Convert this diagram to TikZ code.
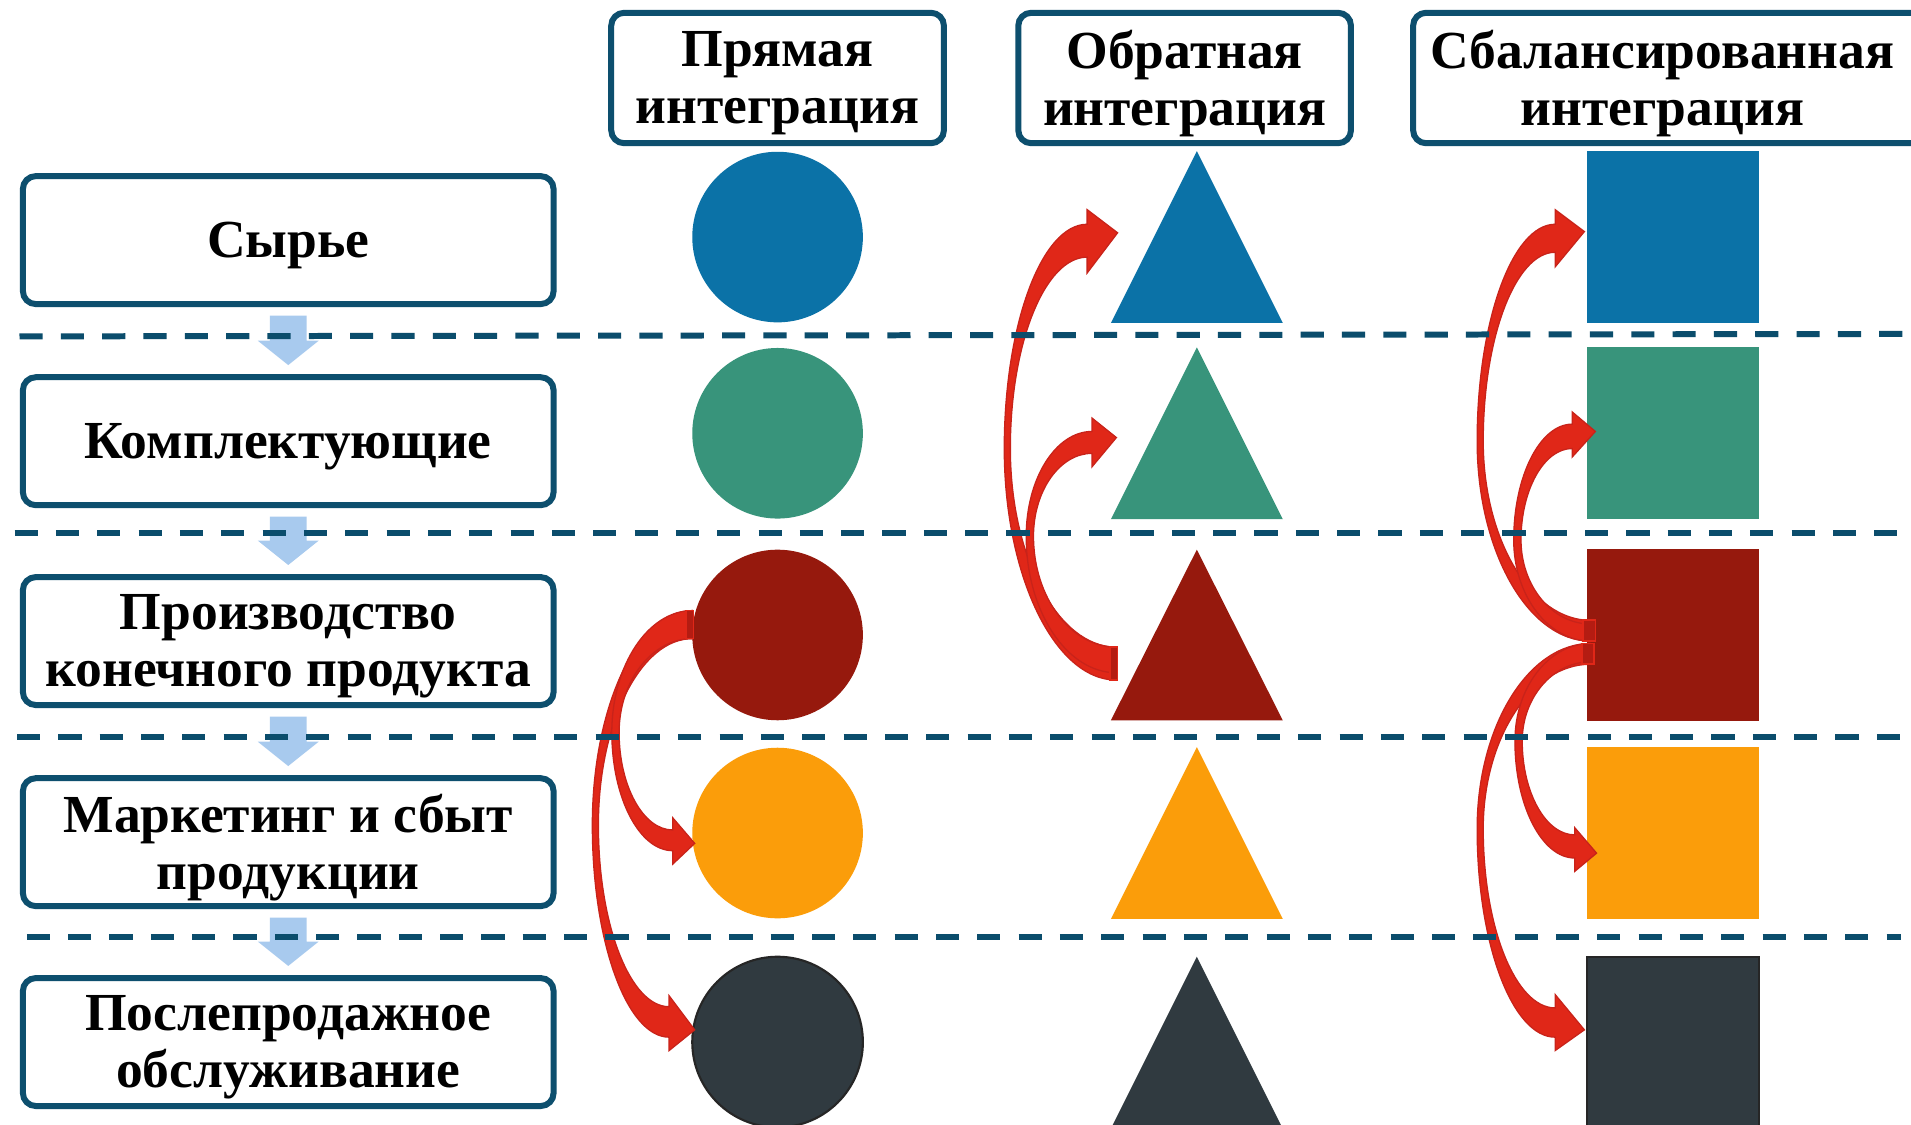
\documentclass[tikz,border=0pt]{standalone}
\usepackage{fontspec}
\setmainfont{Liberation Serif}
\usetikzlibrary{calc}
\definecolor{boxblue}{HTML}{0D4F6E}
\definecolor{dashblue}{HTML}{0B4D6C}
\definecolor{lightarr}{HTML}{A8CAEE}
\definecolor{cblue}{HTML}{0B72A7}
\definecolor{cteal}{HTML}{38947B}
\definecolor{cred}{HTML}{96190D}
\definecolor{corange}{HTML}{FB9D0A}
\definecolor{cdark}{HTML}{303A40}
\definecolor{arrred}{HTML}{E02718}
\definecolor{arredge}{HTML}{C8231A}
\definecolor{tailred}{HTML}{B41C12}
\tikzset{
  lbox/.style={draw=boxblue, line width=2.8pt, rounded corners=6pt, fill=white,
    minimum width=8.71cm, minimum height=2.1cm, inner sep=0pt},
  hbox/.style={lbox, minimum width=5.46cm, minimum height=2.14cm},
  btext/.style={align=center, inner sep=0pt, font=\bfseries\fontsize{25}{26.5}\selectfont},
  circ/.style={circle, inner sep=0pt, minimum size=2.8cm},
  sq/.style={rectangle, inner sep=0pt, minimum size=2.82cm},
  dashline/.style={draw=dashblue, line width=2.8pt, dash pattern=on 10.8pt off 8.5pt},
  lightarrow/.style={fill=lightarr},
  redarrow/.style={fill=arrred, draw=arredge, line width=0.6pt},
  tailtab/.style={fill=tailred, draw=arrred, line width=0.8pt}
}
\newcommand\downarr[2]{\fill[lightarrow] ($(#1.south)+(-15,7)$) -- ($(#1.south)+(15,7)$) -- ($(#2.north)+(15,-27.5)$) -- ($(#2.north)+(25,-27.5)$) -- ($(#2.north)+(0,-7.5)$) -- ($(#2.north)+(-25,-27.5)$) -- ($(#2.north)+(-15,-27.5)$) -- cycle;}
\begin{document}
\begin{tikzpicture}[x=0.02cm, y=-0.02cm]
\useasboundingbox (0,0) rectangle (1568,923);
\fill[white] (0,0) rectangle (1568,923);

% left column boxes
\node[lbox] (b1) at (236.5,197) {};
\node[lbox] (b2) at (236.5,362) {};
\node[lbox] (b3) at (236.5,526) {};
\node[lbox] (b4) at (236.5,691) {};
\node[lbox] (b5) at (236.5,855) {};
\node[btext] (b1t) at ($(b1)+(0,4.5)$) {Сырье};
\node[btext] (b2t) at ($(b2)+(0,4.5)$) {Комплектующие};
\node[btext] (b3t) at ($(b3)+(0,4.5)$) {Производство\\конечного продукта};
\node[btext] (b4t) at ($(b4)+(0,4.5)$) {Маркетинг и сбыт\\продукции};
\node[btext] (b5t) at ($(b5)+(0,4.5)$) {Послепродажное\\обслуживание};

\downarr{b1}{b2}
\downarr{b2}{b3}
\downarr{b3}{b4}
\downarr{b4}{b5}

% headers
\node[hbox] (h1) at (638,64) {};
\node[hbox] (h2) at (972,64) {};
\draw[draw=boxblue, line width=2.8pt, rounded corners=6pt] (1159.5,10.5) rectangle (1610,117.5);
\node[btext] (h1t) at ($(h1)+(0,4.5)$) {Прямая\\интеграция};
\node[btext] (h2t) at ($(h2)+(0,4.5)$) {Обратная\\интеграция};
\node[btext] (h3t) at (1364,68.5) {Сбалансированная\\интеграция};

% circles
\node[circ, fill=cblue] (c1) at (638,194.5) {};
\node[circ, fill=cteal] (c2) at (638,355.5) {};
\node[circ, fill=cred] (c3) at (638,521) {};
\node[circ, fill=corange] (c4) at (638,683.5) {};
\node[circ, fill=cdark, draw=black!85, line width=1pt] (c5) at (638,855) {};

% triangles
\fill[cblue] (982,124) -- (1052.5,265) -- (911.5,265) -- cycle;
\fill[cteal] (982,285) -- (1052.5,426) -- (911.5,426) -- cycle;
\fill[cred] (982,451) -- (1052.5,591) -- (911.5,591) -- cycle;
\fill[corange] (982,613) -- (1052.5,754) -- (911.5,754) -- cycle;
\fill[cdark] (982,785) -- (1052.5,926) -- (911.5,926) -- cycle;
\coordinate (t1) at (982,194.5);
\coordinate (t2) at (982,355.5);
\coordinate (t3) at (982,521);
\coordinate (t4) at (982,683.5);
\coordinate (t5) at (982,855);

% squares
\node[sq, fill=cblue] (s1) at (1372.5,194.5) {};
\node[sq, fill=cteal] (s2) at (1372.5,355.5) {};
\node[sq, fill=cred] (s3) at (1372.5,521) {};
\node[sq, fill=corange] (s4) at (1372.5,683.5) {};
\node[sq, fill=cdark, draw=black!85, line width=1pt] (s5) at (1372.5,855.5) {};

% red curved arrows
\foreach \Tx/\Ao/\Ai/\Lo/\Li/\Ym/\Hx/\So/\Si/\Bo/\Bi/\Ex/\Ey in {
  568/501/524/486/491/677/549/851/826/862/817/570/845,
  568/501/524/502/508/601/552/698/681/709/671/570/692,
  916/558/531/824/829/368/892/184/211/172/224/917/191,
  916/552/531/842/848/440/896/354/372/343/383/916/359,
  1305/526/509/1212/1217/362/1276/184/207/172/219/1300/190,
  1305/526/512/1242/1248/443/1290/348/368/338/375/1309/354,
  1305/528/545/1212/1217/680/1276/851/827/862/816/1300/845,
  1305/528/543/1243/1249/608/1292/704/685/715/679/1310/700}{
  \filldraw[redarrow] (\Tx,\Ao)
    .. controls ({\Tx-0.55*(\Tx-\Lo)},\Ao) and (\Lo,{\Ym+0.55*(\Ao-\Ym)}) .. (\Lo,\Ym)
    .. controls (\Lo,{\Ym+0.55*(\So-\Ym)}) and ({\Hx-0.55*(\Hx-\Lo)},\So) .. (\Hx,\So)
    -- (\Hx,\Bo) -- (\Ex,\Ey) -- (\Hx,\Bi) -- (\Hx,\Si)
    .. controls ({\Hx-0.55*(\Hx-\Li)},\Si) and (\Li,{\Ym+0.55*(\Si-\Ym)}) .. (\Li,\Ym)
    .. controls (\Li,{\Ym+0.55*(\Ai-\Ym)}) and ({\Tx-0.55*(\Tx-\Li)},\Ai) .. (\Tx,\Ai) -- cycle;
}
\filldraw[tailtab] (563,501) rectangle (569,524);
\filldraw[tailtab] (911,531) rectangle (917,558);
\filldraw[tailtab] (1299,509) rectangle (1309,526);
\filldraw[tailtab] (1298,528) rectangle (1308,545);

% dashed separators
\draw[dashline] (16,276) -- (1568,274);
\draw[dashline] (12,437) -- (1568,437);
\draw[dashline] (14,605) -- (1568,605);
\draw[dashline] (22,769) -- (1560,769);
\end{tikzpicture}
\end{document}
